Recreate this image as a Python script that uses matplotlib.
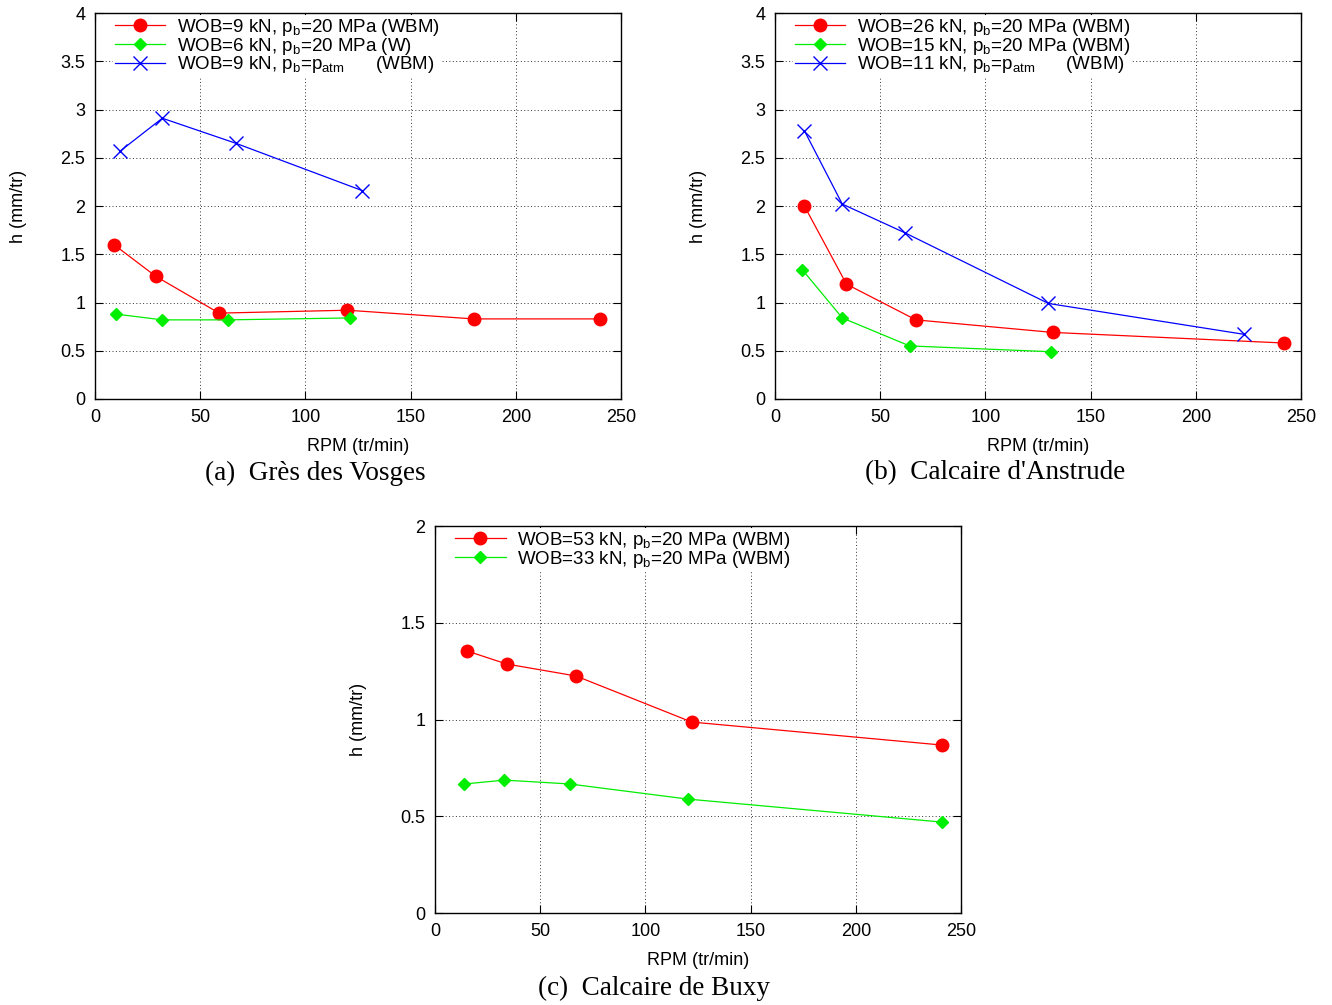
import matplotlib
import matplotlib.pyplot as plt
from matplotlib.ticker import FormatStrFormatter, MultipleLocator

matplotlib.use("Agg", force=True)

plt.rcParams["font.family"] = ["Liberation Sans", "DejaVu Sans"]
plt.rcParams["mathtext.fontset"] = "custom"
plt.rcParams["mathtext.rm"] = "Liberation Sans"
plt.rcParams["mathtext.it"] = "Liberation Sans"

# (a) Gres des Vosges
a_red_x = [9, 29, 59, 120, 180, 240]
a_red_y = [1.60, 1.27, 0.89, 0.92, 0.83, 0.83]
a_green_x = [10, 32, 63, 121]
a_green_y = [0.88, 0.82, 0.82, 0.84]
a_blue_x = [12, 32, 67, 127]
a_blue_y = [2.57, 2.91, 2.65, 2.16]

# (b) Calcaire d'Anstrude
b_red_x = [14, 34, 67, 132, 242]
b_red_y = [2.00, 1.19, 0.82, 0.69, 0.58]
b_green_x = [13, 32, 64, 131]
b_green_y = [1.34, 0.84, 0.55, 0.49]
b_blue_x = [14, 32, 62, 130, 223]
b_blue_y = [2.78, 2.02, 1.72, 0.99, 0.67]

# (c) Calcaire de Buxy
c_red_x = [15, 34, 67, 122, 241]
c_red_y = [1.355, 1.287, 1.225, 0.987, 0.868]
c_green_x = [14, 33, 64, 120, 241]
c_green_y = [0.667, 0.687, 0.667, 0.589, 0.470]

RED = dict(color="#ff0000", marker="o", markersize=9, lw=0.9)
GREEN = dict(color="#00ee00", marker="D", markersize=6.3, lw=0.9)
BLUE = dict(color="#0000ff", marker="x", markersize=10, mew=1.0, lw=0.9)


def style(ax, ymax, ystep):
    ax.set_xlim(0, 250)
    ax.set_ylim(0, ymax)
    ax.xaxis.set_major_locator(MultipleLocator(50))
    ax.yaxis.set_major_locator(MultipleLocator(ystep))
    ax.yaxis.set_major_formatter(FormatStrFormatter("%g"))
    ax.tick_params(direction="in", top=True, right=True, length=6, width=0.8, labelsize=13, pad=7)
    ax.grid(True, color="black", linestyle=(0, (1, 2.5)), lw=0.7, alpha=0.8)
    ax.set_axisbelow(True)
    ax.set_xlabel("RPM (tr/min)", fontsize=13, labelpad=9)
    ax.set_ylabel("h (mm/tr)", fontsize=13, labelpad=24)
    for s in ax.spines.values():
        s.set_linewidth(1.0)


def legend(ax, width_px=526, height_px=386):
    leg = ax.legend(loc="upper left", bbox_to_anchor=(18 / width_px, 1 - 2 / height_px),
                    fontsize=13.5, frameon=True, handlelength=2.7,
                    handletextpad=0.6, borderaxespad=0, labelspacing=-0.12,
                    fancybox=False, borderpad=0.1)
    leg.get_frame().set_edgecolor("none")
    leg.get_frame().set_alpha(1.0)


fig = plt.figure(figsize=(13.32, 10.05), dpi=100)

ax1 = fig.add_axes([0.0713, 0.603, 0.3949, 0.384])
ax1.plot(a_red_x, a_red_y, label=r"WOB=9 kN, p$_\mathrm{b}$=20 MPa (WBM)", **RED)
ax1.plot(a_green_x, a_green_y, label=r"WOB=6 kN, p$_\mathrm{b}$=20 MPa (W)", **GREEN)
ax1.plot(a_blue_x, a_blue_y, label=r"WOB=9 kN, p$_\mathrm{b}$=p$_\mathrm{atm}$      (WBM)", **BLUE)
style(ax1, 4, 0.5)
legend(ax1)

ax2 = fig.add_axes([0.5818, 0.603, 0.3949, 0.384])
ax2.plot(b_red_x, b_red_y, label=r"WOB=26 kN, p$_\mathrm{b}$=20 MPa (WBM)", **RED)
ax2.plot(b_green_x, b_green_y, label=r"WOB=15 kN, p$_\mathrm{b}$=20 MPa (WBM)", **GREEN)
ax2.plot(b_blue_x, b_blue_y, label=r"WOB=11 kN, p$_\mathrm{b}$=p$_\mathrm{atm}$      (WBM)", **BLUE)
style(ax2, 4, 0.5)
legend(ax2)

ax3 = fig.add_axes([0.3266, 0.0915, 0.3949, 0.3851])
ax3.plot(c_red_x, c_red_y, label=r"WOB=53 kN, p$_\mathrm{b}$=20 MPa (WBM)", **RED)
ax3.plot(c_green_x, c_green_y, label=r"WOB=33 kN, p$_\mathrm{b}$=20 MPa (WBM)", **GREEN)
style(ax3, 2, 0.5)
legend(ax3)

cap = dict(fontsize=19.5, family=["Liberation Serif", "DejaVu Serif"], ha="center", va="center")
fig.text(315 / 1332, 1 - 473 / 1005, "(a)  Grès des Vosges", **cap)
fig.text(995 / 1332, 1 - 473 / 1005, "(b)  Calcaire d'Anstrude", **cap)
fig.text(654 / 1332, 1 - 988 / 1005, "(c)  Calcaire de Buxy", **cap)

fig.savefig("out.png", dpi=100)
